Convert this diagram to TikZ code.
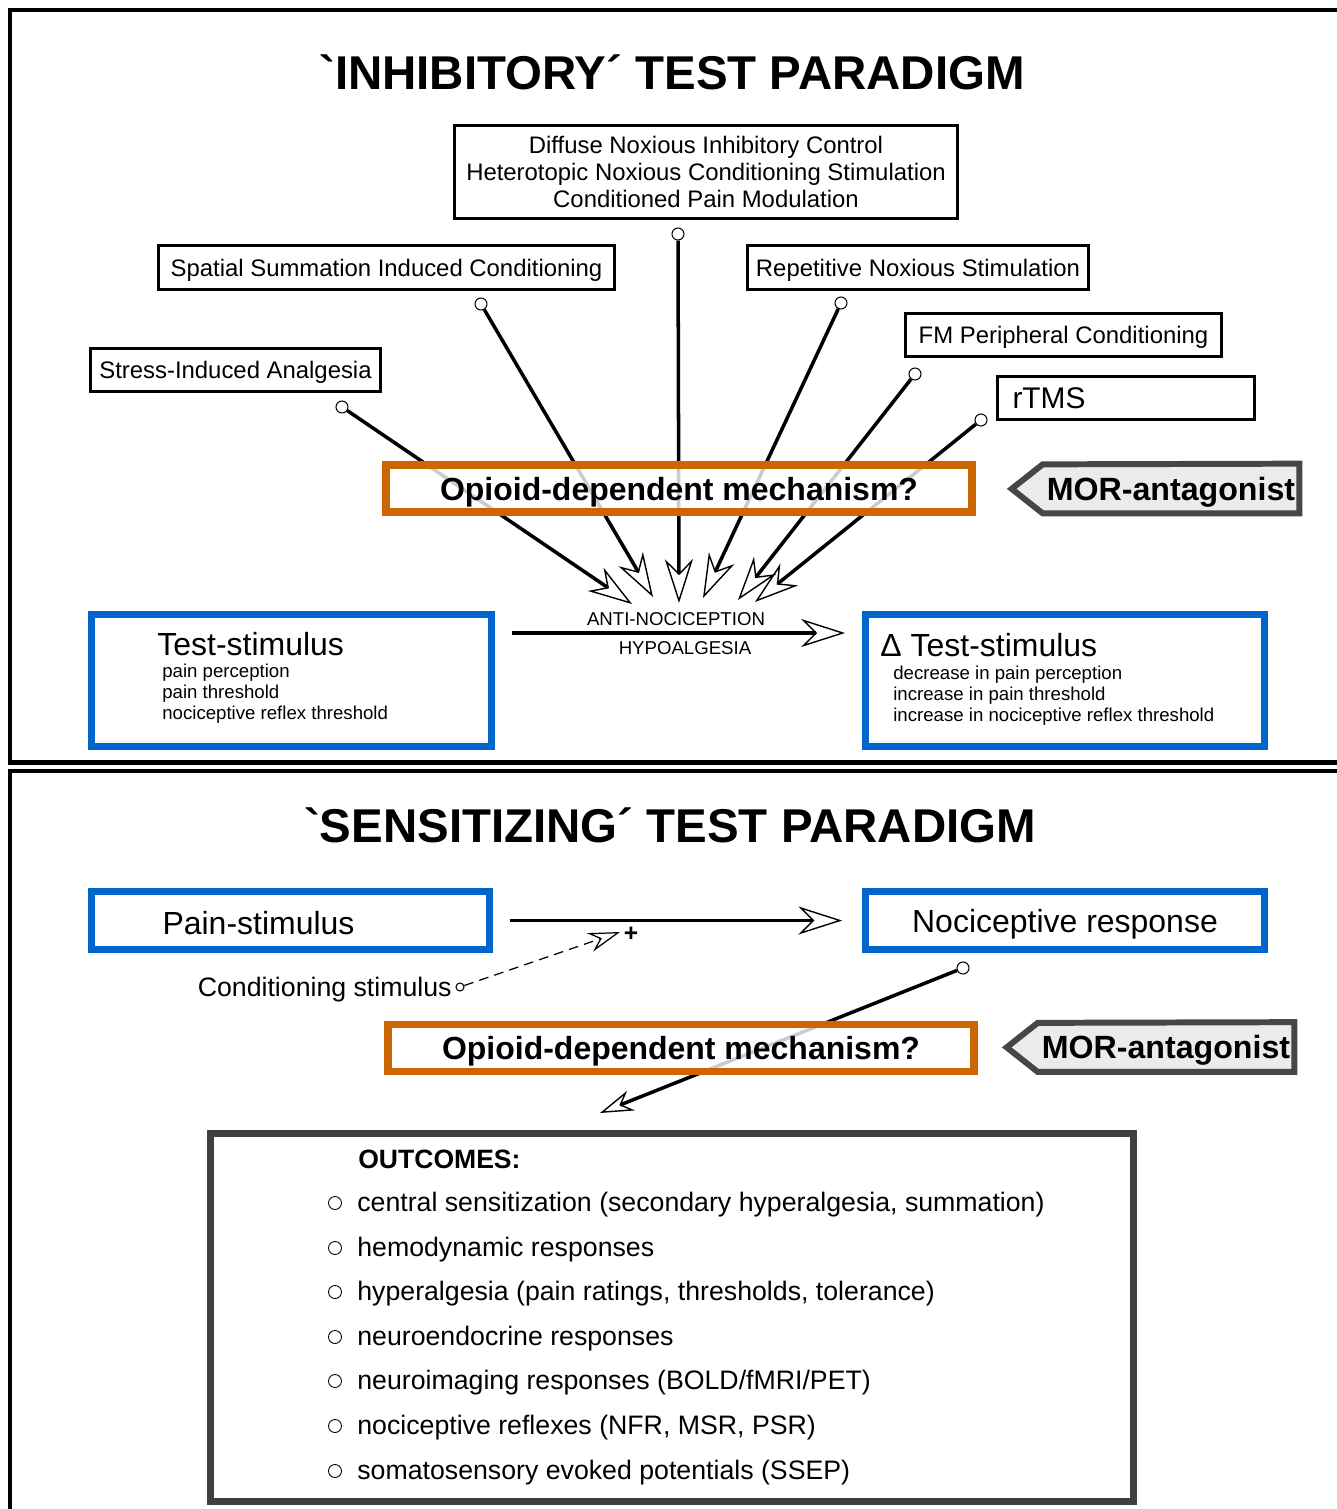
\documentclass[tikz,border=0pt]{standalone}
\usepackage{fontspec}
\setmainfont{Liberation Sans}[Ligatures=TeXOff]
\usetikzlibrary{arrows.meta,backgrounds}
\definecolor{opioid}{RGB}{204,102,0}
\definecolor{stimblue}{RGB}{0,102,204}
\definecolor{antag}{RGB}{70,70,70}
\definecolor{antagfill}{RGB}{235,235,235}
\definecolor{outgray}{RGB}{64,64,64}

\begin{document}
\begin{tikzpicture}[x=0.02cm, y=-0.02cm,
      cond/.style={draw=black, line width=1.7pt, inner sep=0pt, align=center,
                   font=\fontsize{13.6}{15.3}\selectfont},
      stim/.style={draw=stimblue, line width=4pt, inner sep=0pt},
      opio/.style={draw=opioid, line width=4.5pt, fill=white, fill opacity=0.8,
                   text opacity=1, inner sep=0pt, minimum width=11.72cm,
                   minimum height=0.94cm, text depth=0pt,
                   font=\fontsize{18.2}{22}\selectfont\bfseries},
      mor/.style={inner sep=0pt, minimum width=5.12cm, minimum height=0.98cm,
                  text depth=0pt, font=\fontsize{18.3}{22}\selectfont\bfseries},
      morframe/.style={draw=antag, fill=antagfill, line width=3.4pt, line join=miter},
      knob/.style={circle, draw=black, fill=white, line width=0.6pt,
                   minimum size=0.24cm, inner sep=0pt},
      conn/.style={line width=2pt,
                   -{Stealth[open, length=25pt, width=16pt, inset=8pt, line width=0.8pt]}},
      title/.style={font=\fontsize{27}{32}\selectfont\bfseries},
      big/.style={font=\fontsize{18.2}{21}\selectfont, inner sep=0pt, text depth=0pt},
      sub/.style={font=\fontsize{10.6}{11.9}\selectfont, align=left, inner sep=0pt},
      item/.style={font=\fontsize{15.2}{17}\selectfont, inner sep=0pt, anchor=west,
                   text depth=0pt}]

    \useasboundingbox (0,0) rectangle (1337,1509);

    % frames
    \draw[line width=2.3pt] (1345,10) -- (10,10) -- (10,762.5) -- (1345,762.5);
    \draw[line width=2.3pt] (1345,771) -- (10,771) -- (10,1515);

    % inhibitory paradigm
    \node[title] (ttl1) at (672,72) {`INHIBITORY´ TEST PARADIGM};

    \node[cond, minimum width=10.06cm, minimum height=1.86cm] (dnic) at (706,172)
      {Diffuse Noxious Inhibitory Control\\Heterotopic Noxious Conditioning Stimulation\\Conditioned Pain Modulation};
    \node[cond, text depth=0pt, minimum width=9.12cm, minimum height=0.88cm] (ssic) at (386.5,267.5) {Spatial Summation Induced Conditioning};
    \node[cond, text depth=0pt, minimum width=6.82cm, minimum height=0.88cm] (rns) at (918,267.5) {Repetitive Noxious Stimulation};
    \node[cond, text depth=0pt, minimum width=6.32cm, minimum height=0.86cm] (fmpc) at (1063.5,335) {FM Peripheral Conditioning};
    \node[cond, text depth=0pt, minimum width=5.14cm, minimum height=0.86cm, text width=4.54cm, align=left,
          inner xsep=0.3cm, font=\fontsize{17}{19}\selectfont] (rtms) at (1126,398) {rTMS};
    \node[cond, text depth=0pt, minimum width=5.8cm, minimum height=0.86cm] (sia) at (235.5,370) {Stress-Induced Analgesia};

    \node[knob] (k1) at (342,407) {};
    \node[knob] (k2) at (481,304) {};
    \node[knob] (k3) at (678,234) {};
    \node[knob] (k4) at (841,303) {};
    \node[knob] (k5) at (915,374) {};
    \node[knob] (k6) at (981,420) {};
    \coordinate (h1) at (632,604);
    \coordinate (h2) at (653,597);
    \coordinate (h3) at (679,603);
    \coordinate (h4) at (703,598);
    \coordinate (h5) at (738,600);
    \coordinate (h6) at (755,602);
    \draw[conn] (k1) -- (h1);
    \draw[conn] (k2) -- (h2);
    \draw[conn] (k3) -- (h3);
    \draw[conn] (k4) -- (h4);
    \draw[conn] (k5) -- (h5);
    \draw[conn] (k6) -- (h6);

    \node[opio] (op1) at (679,488.5) {Opioid-dependent mechanism?};
    \node[mor] (mor1) at (1171,488.5) {MOR-antagonist};
    \begin{scope}[on background layer]
      \draw[morframe] (mor1.north east) -- (mor1.south east) -- (mor1.south west)
        -- ++(-31,-24.5) -- ++(31,-24.5) -- cycle;
    \end{scope}

    \node[stim, minimum width=8cm, minimum height=2.64cm] (ts) at (291.5,680.5) {};
    \node[stim, minimum width=7.98cm, minimum height=2.64cm] (dts) at (1065,680.5) {};
    \node[big, anchor=west] (tstxt) at (157,644) {Test-stimulus};
    \node[sub, anchor=north west] (tssub) at (162,664) {pain perception\\pain threshold\\nociceptive reflex threshold};
    \node[big, anchor=west] (dtstxt) at (880,645) {Δ Test-stimulus};
    \node[sub, anchor=north west] (dtssub) at (893,666) {decrease in pain perception\\increase in pain threshold\\increase in nociceptive reflex threshold};

    \coordinate (a1) at (512,633);
    \coordinate (a2) at (845,633);
    \draw[conn] (a1) -- (a2);
    \node[font=\fontsize{10.6}{12}\selectfont, inner sep=0pt, text depth=0pt] (anti) at (676,619) {ANTI-NOCICEPTION};
    \node[font=\fontsize{10.6}{12}\selectfont, inner sep=0pt, text depth=0pt] (hypo) at (685,648) {HYPOALGESIA};

    % sensitizing paradigm
    \node[title] (ttl2) at (670,825) {`SENSITIZING´ TEST PARADIGM};

    \node[stim, minimum width=7.96cm, minimum height=1.16cm] (ps) at (290.5,920.5) {};
    \node[big] (pstxt) at (258.5,923) {Pain-stimulus};
    \node[stim, big, minimum width=7.98cm, minimum height=1.16cm] (nr) at (1065,920.5) {Nociceptive response};
    \draw[conn, shorten <=9.6pt, shorten >=11.3pt] (ps) -- (nr);

    \node[knob, minimum size=0.16cm] (kc) at (460,987) {};
    \coordinate (hc) at (620,932);
    \draw[line width=0.7pt, dash pattern=on 5.5pt off 3.5pt,
          -{Stealth[open, length=18pt, width=11pt, inset=6pt, line width=0.7pt]}] (kc) -- (hc);
    \node[font=\fontsize{14}{16}\selectfont\bfseries, inner sep=0pt] (plus) at (631,934) {+};
    \node[item, anchor=east] (condtxt) at (452,987) {Conditioning stimulus};

    \node[knob] (k7) at (963,968) {};
    \coordinate (h7) at (600,1113);
    \draw[line width=2pt,
          -{Stealth[open, length=19pt, width=12pt, inset=6pt, line width=0.8pt]}] (k7) -- (h7);

    \node[opio] (op2) at (681,1048) {Opioid-dependent mechanism?};
    \node[mor] (mor2) at (1166,1047) {MOR-antagonist};
    \begin{scope}[on background layer]
      \draw[morframe] (mor2.north east) -- (mor2.south east) -- (mor2.south west)
        -- ++(-31,-24.5) -- ++(31,-24.5) -- cycle;
    \end{scope}

    % outcomes
    \node[draw=outgray, line width=4pt, minimum width=18.46cm, minimum height=7.36cm,
          inner sep=0pt] (outc) at (672,1317.5) {};
    \node[item, font=\fontsize{15.1}{17}\selectfont\bfseries] (outhd) at (358,1159) {OUTCOMES:};
    \node[knob, minimum size=0.26cm, line width=0.5pt] (b1) at (335,1203) {};
    \node[item] (o1) at (357,1202) {central sensitization (secondary hyperalgesia, summation)};
    \node[knob, minimum size=0.26cm, line width=0.5pt] (b2) at (335,1248) {};
    \node[item] (o2) at (357,1247) {hemodynamic responses};
    \node[knob, minimum size=0.26cm, line width=0.5pt] (b3) at (335,1292) {};
    \node[item] (o3) at (357,1291) {hyperalgesia (pain ratings, thresholds, tolerance)};
    \node[knob, minimum size=0.26cm, line width=0.5pt] (b4) at (335,1337) {};
    \node[item] (o4) at (357,1336) {neuroendocrine responses};
    \node[knob, minimum size=0.26cm, line width=0.5pt] (b5) at (335,1381) {};
    \node[item] (o5) at (357,1380) {neuroimaging responses (BOLD/fMRI/PET)};
    \node[knob, minimum size=0.26cm, line width=0.5pt] (b6) at (335,1426) {};
    \node[item] (o6) at (357,1425) {nociceptive reflexes (NFR, MSR, PSR)};
    \node[knob, minimum size=0.26cm, line width=0.5pt] (b7) at (335,1471) {};
    \node[item] (o7) at (357,1470) {somatosensory evoked potentials (SSEP)};
  \end{tikzpicture}
\end{document}
